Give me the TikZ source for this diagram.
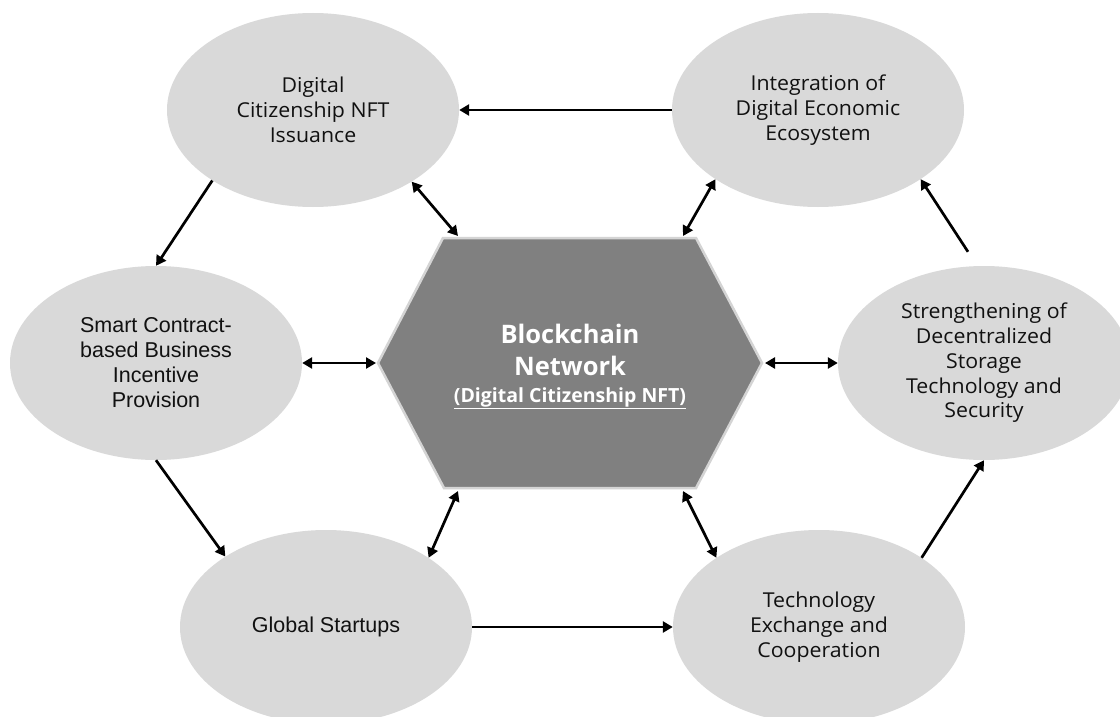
\documentclass[tikz,border=0pt]{standalone}
\usepackage{fontspec}
\setmainfont{Liberation Sans}
\newfontfamily\mgfont[FakeStretch=1.04]{Open Sans}
\newfontfamily\arfont{Liberation Sans}
\newfontfamily\hxfont{Open Sans}
\usetikzlibrary{arrows.meta,shapes.geometric}
\definecolor{ellfill}{HTML}{D9D9D9}
\definecolor{hexfill}{HTML}{808080}
\definecolor{hexline}{HTML}{D4D4D4}
\definecolor{txt}{HTML}{111111}
\tikzset{
  ell/.style={ellipse, fill=ellfill, draw=none, minimum width=292pt, minimum height=194pt, inner sep=0pt, align=center, text=txt},
  mgtext/.style={font=\mgfont\fontsize{20.5}{24.8}\selectfont},
  artext/.style={font=\arfont\fontsize{21.5}{25}\selectfont},
  link/.style={line width=2.7pt, -{Triangle[length=10pt,width=11pt]}},
  dlink/.style={line width=2.7pt, {Triangle[length=10pt,width=11pt]}-{Triangle[length=10pt,width=11pt]}},
}
\begin{document}
\begin{tikzpicture}[x=1pt,y=-1pt]
\useasboundingbox[fill=white] (0,0) rectangle (1120,717);

% ellipses
\node[ell, mgtext] (e1) at (313,110) {Digital\\Citizenship NFT\\Issuance};
\node[ell, mgtext] (e2) at (818,110) {Integration of\\Digital Economic\\Ecosystem};
\node[ell, artext] (e3) at (156,363) {Smart Contract-\\based Business\\Incentive\\Provision};
\node[ell, mgtext] (e4) at (984,363) {Strengthening of\\Decentralized\\Storage\\Technology and\\Security};
\node[ell, artext] (e5) at (326,627) {Global Startups};
\node[ell, mgtext] (e6) at (819,627) {Technology\\Exchange and\\Cooperation};

% hexagon
\coordinate (hL) at (378,363);
\coordinate (hTL) at (443,238);
\coordinate (hTR) at (696,238);
\coordinate (hR) at (762,363);
\coordinate (hBR) at (696,488);
\coordinate (hBL) at (444,488);
\fill[hexfill, draw=hexline, line width=2.5pt, line join=miter] (hL) -- (hTL) -- (hTR) -- (hR) -- (hBR) -- (hBL) -- cycle;
\node[anchor=base, text=white, font=\hxfont\bfseries\fontsize{25.5}{30}\selectfont, inner sep=0pt] (hx1) at (570,343) {Blockchain};
\node[anchor=base, text=white, font=\hxfont\bfseries\fontsize{25.5}{30}\selectfont, inner sep=0pt] (hx2) at (570,375) {Network};
\node[anchor=base, text=white, font=\hxfont\bfseries\fontsize{19.5}{24}\selectfont, inner sep=0pt] (hx3) at (570,402) {\underline{(Digital Citizenship NFT)}};

% connection points on hexagon
\coordinate (c1) at (458,236);
\coordinate (c2) at (683,236);
\coordinate (c3) at (376,363);
\coordinate (c4) at (765,363);
\coordinate (c5) at (458,491);
\coordinate (c6) at (683,491);

% double arrows
\draw[dlink] (e1.-36) -- (c1);
\draw[dlink] (e2.-146) -- (c2);
\draw[dlink] (e3.east) -- (c3);
\draw[dlink] (c4) -- (e4.west);
\draw[dlink] (e5.34) -- (c5);
\draw[dlink] (e6.146) -- (c6);

% cycle arrows
\draw[link] (e2.west) -- (e1.east);
\draw[link] (e1.-145) -- (e3.north);
\draw[link] (e3.south) -- (e5.145);
\draw[link] (e5.east) -- (e6.west);
\draw[link] (e6.34) -- (e4.south);
\draw[link] ([shift={(-16,-14)}]e4.north) -- (e2.-34);
\end{tikzpicture}
\end{document}
